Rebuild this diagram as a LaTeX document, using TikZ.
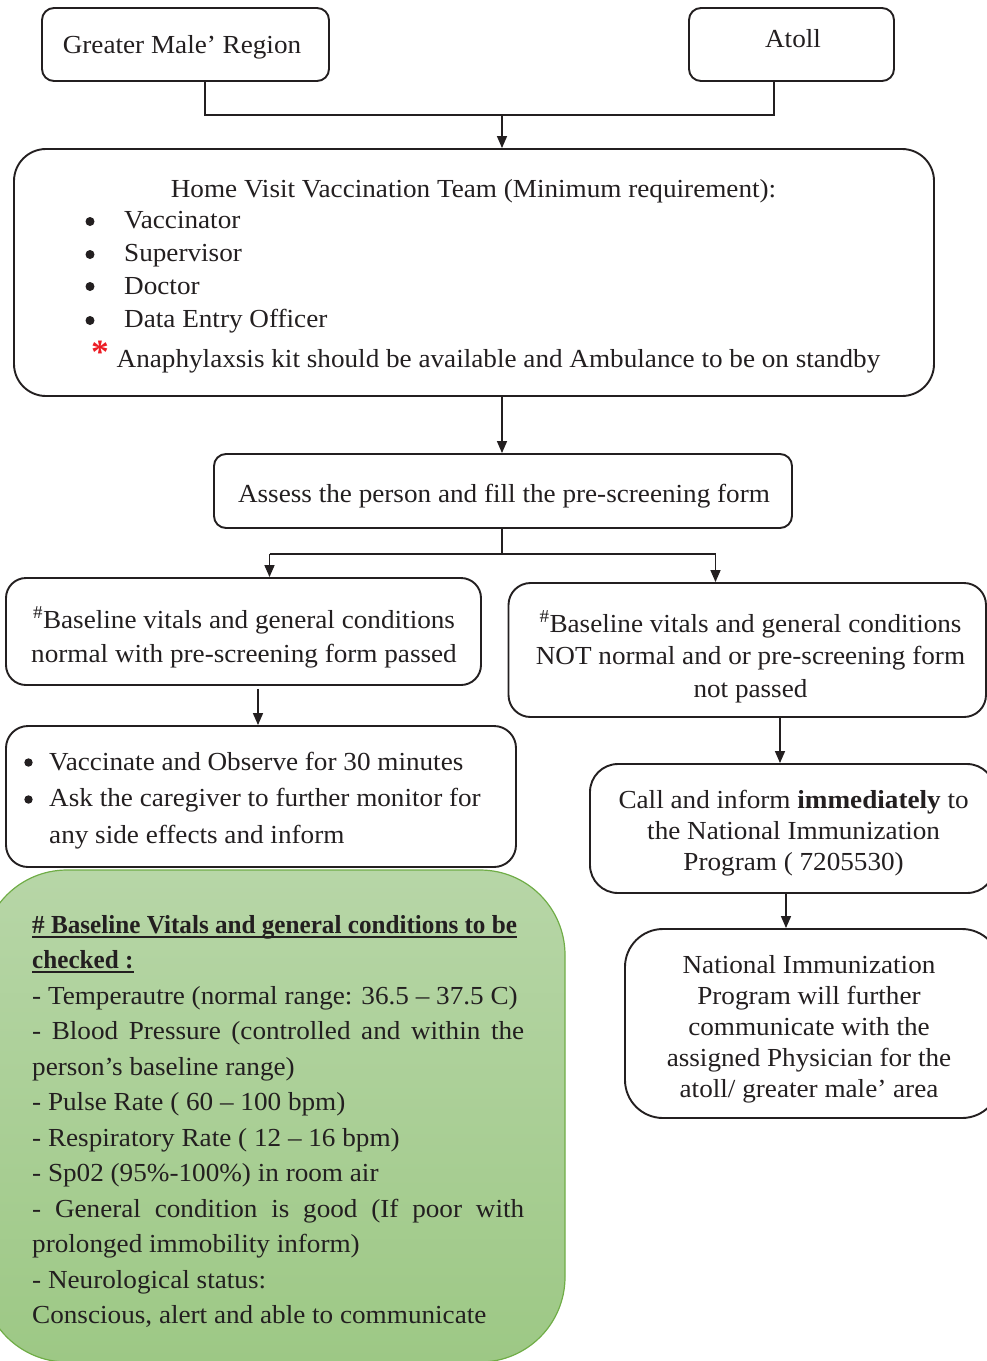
\documentclass[tikz,border=0pt]{standalone}
\usepackage{graphicx}
\usepackage{fontspec}
\setmainfont{Liberation Serif}[FakeStretch=1.045]
\usetikzlibrary{arrows.meta}

\definecolor{boxline}{RGB}{35,31,32}
\definecolor{greentop}{RGB}{183,214,167}
\definecolor{greenbot}{RGB}{157,200,133}
\definecolor{greenline}{RGB}{112,173,71}
\definecolor{starred}{RGB}{237,28,36}

% thick underline used in the checklist heading
\newcommand\thickul[1]{\leavevmode\setbox0\hbox{#1}\rlap{\rule[-4.5pt]{\wd0}{2pt}}\box0}
% condensed bold for the checklist heading
\newcommand\headbf[1]{\scalebox{0.926}[1]{\textbf{#1}}}
% a line stretched to the full paragraph width
\newcommand\fullline[1]{\leavevmode\makebox[492pt][s]{\spaceskip=0.25em plus 1fil\relax #1}}
% natural interword spacing of the font
\newcommand\natspaces{\spaceskip=0pt\xspaceskip=0pt\relax}

\begin{document}
\begin{tikzpicture}[x=1pt,y=-1pt,
  box/.style={draw=boxline, line width=1.9pt, rounded corners=#1, inner sep=0pt, fill=white},
  wire/.style={draw=boxline, line width=1.5pt},
  arr/.style={wire, -{Triangle[length=12pt,width=10pt]}},
  txt/.style={font=\fontsize{26}{33}\selectfont, inner sep=0pt, text=boxline},
  ctr/.style={txt, text width=#1, execute at begin node={\natspaces\centering}},
  lft/.style={txt, text width=#1, execute at begin node={\natspaces\raggedright}},
  dot/.style={fill=boxline},
]
\useasboundingbox (0,0) rectangle (987,1361);
\clip (0,0) rectangle (987,1361);

% ---------- boxes ----------
\node[box=12pt, minimum width=287pt, minimum height=73pt] (gm) at (185.5,44.5) {};
\node[box=12pt, minimum width=205pt, minimum height=73pt] (atoll) at (791.5,44.5) {};
\node[box=32pt, minimum width=920pt, minimum height=247pt] (home) at (474,272.5) {};
\node[box=12pt, minimum width=578pt, minimum height=74pt] (assess) at (503,491) {};
\node[box=20pt, minimum width=475pt, minimum height=107pt] (ok) at (243.5,631.5) {};
\node[box=22pt, minimum width=477.5pt, minimum height=134pt] (notok) at (747.25,650) {};
\node[box=22pt, minimum width=510pt, minimum height=141pt] (vacc) at (261,796.5) {};
\node[box=28pt, minimum width=405pt, minimum height=129pt] (call) at (792.5,828.5) {};
\node[box=38pt, minimum width=375pt, minimum height=189pt] (natl) at (812.5,1023.5) {};
\node[draw=greenline, line width=1.2pt, rounded corners=85pt, top color=greentop,
      bottom color=greenbot, minimum width=583pt, minimum height=492pt, inner sep=0pt]
      (checks) at (273.5,1116) {};

% ---------- texts ----------
\node[txt, anchor=base] (gmtext) at (182,53) {Greater Male’ Region};
\node[txt, anchor=base] (atolltext) at (793,47) {Atoll};

\node[txt, anchor=base] (hometitle) at (473.5,197) {Home Visit Vaccination Team (Minimum requirement):};
\foreach \yy in {221.5,254.5,286.5,320.5} \fill[dot] (90,\yy) circle (4.5);
\node[lft=400pt, anchor=base west] (homelist) at (124,228) {%
  Vaccinator\\ Supervisor\\ Doctor\\ Data Entry Officer};
\node[inner sep=0pt, text=starred, font=\fontsize{34}{34}\selectfont\bfseries] (star) at (100,352) {*};
\node[txt, anchor=base west] (kit) at (116.5,367) {Anaphylaxsis kit should be available and Ambulance to be on standby};

\node[txt, anchor=base] (assesstext) at (504,502) {Assess the person and fill the pre-screening form};

\node[ctr=470pt, anchor=base, font=\fontsize{26}{34}\selectfont]
  (oktext) at (244,628) {\textsuperscript{\#}Baseline vitals and general conditions\\
  normal with pre-screening form passed};
\node[ctr=470pt, anchor=base, font=\fontsize{26}{32.5}\selectfont]
  (notoktext) at (750.5,632) {\textsuperscript{\#}Baseline vitals and general conditions\\
  NOT normal and or pre-screening form\\ not passed};

\foreach \yy in {762.5,799.5} \fill[dot] (28.5,\yy) circle (4.2);
\node[lft=460pt, anchor=base west, font=\fontsize{26}{36.5}\selectfont]
  (vacctext) at (49,770) {%
  Vaccinate and Observe for 30 minutes\\
  Ask the caregiver to further monitor for\\
  any side effects and inform};

\node[ctr=400pt, anchor=base, font=\fontsize{26}{31}\selectfont]
  (calltext) at (793.6,808) {Call and inform \textbf{immediately} to\\
  the National Immunization\\ Program ( 7205530)};

\node[ctr=360pt, anchor=base, font=\fontsize{26}{31.2}\selectfont]
  (natltext) at (809,973) {National Immunization\\ Program will further\\
  communicate with the\\ assigned Physician for the\\ atoll/ greater male’ area};

\node[lft=530pt, anchor=base west, font=\fontsize{26}{35.5}\selectfont]
  (checktext) at (32,933) {%
  \thickul{\headbf{\# Baseline Vitals and general conditions to be}}\\
  \thickul{\headbf{checked :}}\\
  - Temperautre (normal range: 36.5 – 37.5 C)\\
  \fullline{- Blood Pressure (controlled and within the}\\
  person’s baseline range)\\
  - Pulse Rate ( 60 – 100 bpm)\\
  - Respiratory Rate ( 12 – 16 bpm)\\
  - Sp02 (95\%-100\%) in room air\\
  \fullline{- General condition is good (If poor with}\\
  prolonged immobility inform)\\
  - Neurological status:\\
  Conscious, alert and able to communicate};

% ---------- connectors ----------
\coordinate (mergeL) at (205,115);
\coordinate (mergeR) at (774,115);
\coordinate (mergeM) at (502,115);
\coordinate (split) at (502,554);
\coordinate (splitL) at (269.5,554);
\coordinate (splitR) at (715.5,554);

\draw[wire] (gm.south -| mergeL) |- (mergeR) -- (atoll.south -| mergeR);
\draw[arr] (mergeM) -- (mergeM |- home.north);
\draw[arr] (home.south -| mergeM) -- (assess.north -| mergeM);
\draw[wire] (assess.south -| split) -- (split);
\draw[wire] (splitL) -- (splitR);
\draw[arr] (splitL) -- (splitL |- ok.north);
\draw[arr] (splitR) -- (splitR |- notok.north);
\draw[arr] ([xshift=14.5pt, yshift=-3pt]ok.south) -- ([xshift=14.5pt]ok.south |- vacc.north);
\draw[arr] ([xshift=32.75pt]notok.south) -- ([xshift=32.75pt]notok.south |- call.north);
\draw[arr] ([xshift=-6.5pt]call.south) -- ([xshift=-6.5pt]call.south |- natl.north);
\end{tikzpicture}
\end{document}
